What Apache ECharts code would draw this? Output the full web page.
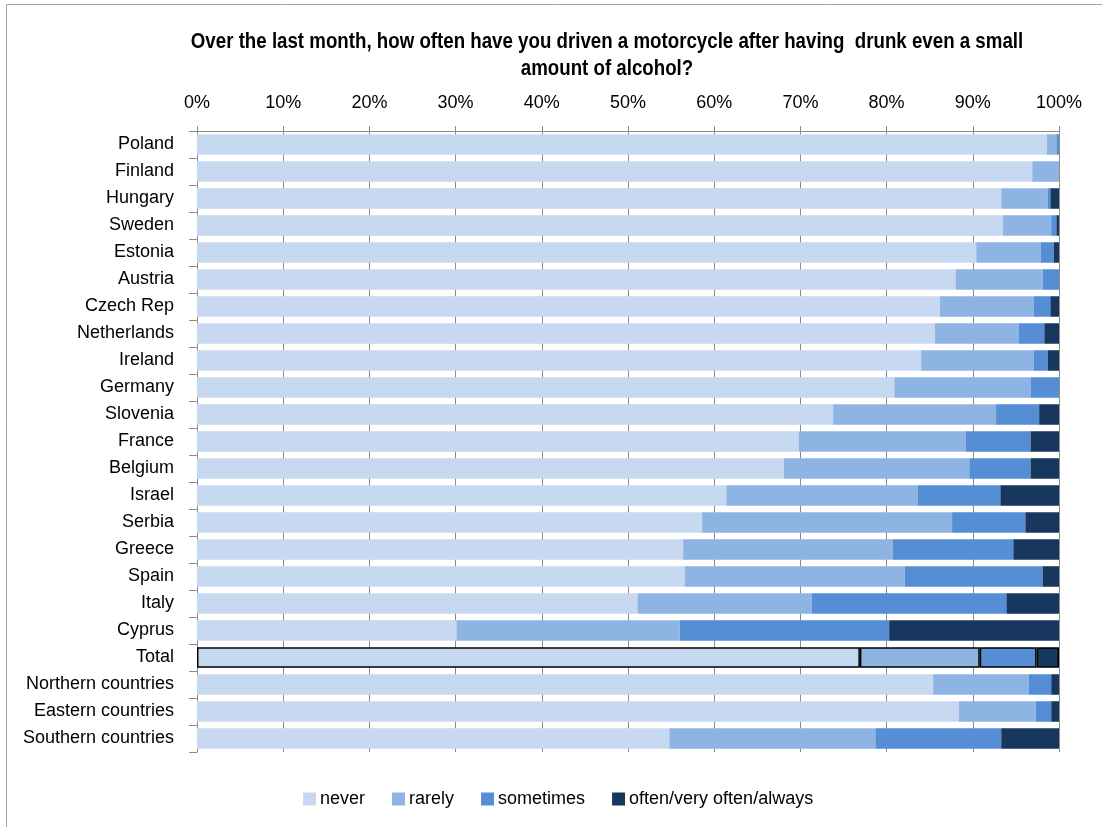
<!DOCTYPE html>
<html>
<head>
<meta charset="utf-8">
<script src="https://cdn.jsdelivr.net/npm/echarts@6/dist/echarts.min.js"></script>
<style>
  html, body { margin: 0; padding: 0; background: #fff; }
  #chart { width: 1102px; height: 827px; }
</style>
</head>
<body>
<div id="chart"></div>
<script>
// Survey answers per country, percentages of respondents (each row sums to 100)
const categories = ['Poland', 'Finland', 'Hungary', 'Sweden', 'Estonia', 'Austria', 'Czech Rep',
  'Netherlands', 'Ireland', 'Germany', 'Slovenia', 'France', 'Belgium', 'Israel', 'Serbia',
  'Greece', 'Spain', 'Italy', 'Cyprus', 'Total', 'Northern countries', 'Eastern countries',
  'Southern countries'];

const never =     [98.6, 96.9, 93.3, 93.5, 90.4, 88.0, 86.2, 85.6, 84.0, 80.9, 73.8, 69.8, 68.1, 61.4, 58.6, 56.4, 56.6, 51.1, 30.1, 76.9, 85.4, 88.4, 54.8];
const rarely =    [ 1.1,  3.1,  5.4,  5.6,  7.5, 10.1, 10.9,  9.7, 13.1, 15.8, 18.9, 19.4, 21.5, 22.2, 29.0, 24.3, 25.5, 20.2, 25.9, 13.9, 11.1,  8.9, 23.9];
const sometimes = [ 0.3,  0.0,  0.3,  0.6,  1.5,  1.9,  1.9,  3.0,  1.6,  3.3,  5.0,  7.5,  7.1,  9.6,  8.5, 14.0, 16.0, 22.6, 24.3,  6.6,  2.6,  1.8, 14.6];
const often =     [ 0.0,  0.0,  1.0,  0.3,  0.6,  0.0,  1.0,  1.7,  1.3,  0.0,  2.3,  3.3,  3.3,  6.8,  3.9,  5.3,  1.9,  6.1, 19.7,  2.6,  0.9,  0.9,  6.7];

const xTicks = [0, 10, 20, 30, 40, 50, 60, 70, 80, 90, 100];

const titleLines = [
  'Over the last month, how often have you driven a motorcycle after having  drunk even a small',
  'amount of alcohol?'
];

const seriesNames = ['never', 'rarely', 'sometimes', 'often/very often/always'];
const seriesColors = ['#C6D9F1', '#8EB4E3', '#558ED5', '#17375E'];
const seriesValues = [never, rarely, sometimes, often];

const FONT = "'Liberation Sans', Arial, sans-serif";
const GRID_GREY = '#8c8c8c';

// The "Total" row is outlined in black
function rowData(values) {
  return values.map((v, i) => categories[i] === 'Total'
    ? { value: v, itemStyle: { borderColor: '#000', borderWidth: 1.5 } }
    : v);
}

// Condensed bold heading: regular bold face squeezed horizontally
const TITLE_X = 607;
const titleGraphics = titleLines.map((line, i) => ({
  type: 'text',
  x: TITLE_X,
  y: 42 + i * 27,
  scaleX: 0.85,
  silent: true,
  style: {
    text: line,
    font: "bold 22px 'Liberation Sans', Arial, sans-serif",
    fill: '#000',
    textAlign: 'center',
    textVerticalAlign: 'middle'
  }
}));

const chart = echarts.init(document.getElementById('chart'), null, { renderer: 'canvas' });

chart.setOption({
  animation: false,
  backgroundColor: '#fff',
  textStyle: { fontFamily: FONT, color: '#000' },
  graphic: [{
    type: 'rect',
    shape: { x: 6.5, y: 4.5, width: 1200, height: 1000 },
    style: { fill: 'none', stroke: '#a0a0a0', lineWidth: 1 },
    silent: true,
    z: -10
  }].concat(titleGraphics),
  legend: {
    left: 298,
    top: 785,
    itemWidth: 13,
    itemHeight: 13,
    itemGap: 27,
    icon: 'rect',
    textStyle: { fontFamily: FONT, fontSize: 18, color: '#000', padding: [0, 0, 0, -1] },
    data: seriesNames
  },
  grid: { left: 197, right: 43, top: 131, bottom: 75, containLabel: false },
  xAxis: {
    type: 'value',
    position: 'top',
    min: xTicks[0],
    max: xTicks[xTicks.length - 1],
    interval: 10,
    axisLine: { show: true, lineStyle: { color: GRID_GREY, width: 1 } },
    axisTick: { show: true, length: 5, lineStyle: { color: GRID_GREY } },
    splitLine: { show: true, lineStyle: { color: GRID_GREY, width: 1 } },
    axisLabel: { formatter: '{value}%', fontSize: 18, color: '#000', margin: 19, fontFamily: FONT }
  },
  yAxis: {
    type: 'category',
    inverse: true,
    data: categories,
    axisLine: { show: true, lineStyle: { color: GRID_GREY, width: 1 } },
    axisTick: { show: true, length: 8, lineStyle: { color: GRID_GREY } },
    axisLabel: { fontSize: 18, color: '#000', margin: 23, fontFamily: FONT }
  },
  series: seriesNames.map((name, k) => ({
    name: name,
    type: 'bar',
    stack: 'answers',
    barCategoryGap: '24%',
    itemStyle: { color: seriesColors[k] },
    data: rowData(seriesValues[k])
  }))
});
</script>
</body>
</html>
